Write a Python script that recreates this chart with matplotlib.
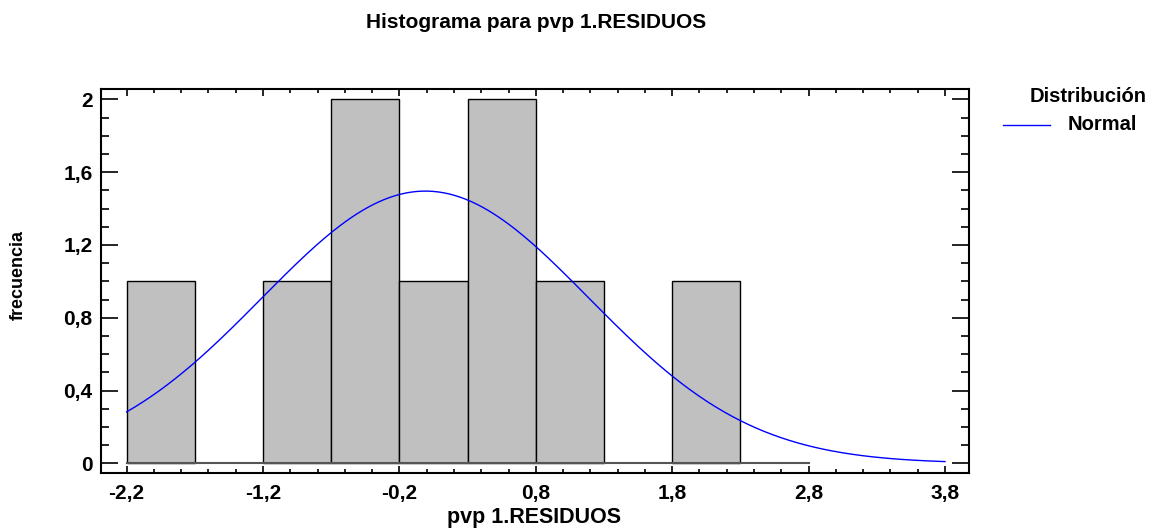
import numpy as np
import matplotlib
matplotlib.use("Agg")
import matplotlib.pyplot as plt
from matplotlib.lines import Line2D
from matplotlib.ticker import FuncFormatter

plt.rcParams['font.family'] = ['Liberation Sans', 'DejaVu Sans']
plt.rcParams['font.weight'] = 'bold'

# frecuencias por clase (ancho 0,5)
bin_edges = [-2.2, -1.7, -1.2, -0.7, -0.2, 0.3, 0.8, 1.3, 1.8, 2.3, 2.8]
counts = [1, 0, 1, 2, 1, 2, 1, 0, 1, 0]

# ajuste normal
n_obs = 9
mu = -0.01
sigma = 1.2
curve_range = (-2.2, 3.8)

fig = plt.figure(figsize=(11.6, 5.31), dpi=100)
ax = fig.add_axes([101/1160, 1 - 473/531, 868/1160, 384/531])

width = bin_edges[1] - bin_edges[0]
for left, c in zip(bin_edges[:-1], counts):
    if c > 0:
        ax.bar(left, c, width=width, align='edge', color='#C0C0C0',
               edgecolor='black', linewidth=1.0, zorder=2)
ax.plot([bin_edges[0], bin_edges[-1]], [0, 0], color='#555555', lw=1.5, zorder=3)

xs = np.linspace(curve_range[0], curve_range[1], 300)
ys = n_obs * width * np.exp(-0.5 * ((xs - mu) / sigma) ** 2) / (sigma * np.sqrt(2 * np.pi))
ax.plot(xs, ys, color='#0000FF', lw=1.0, zorder=4)

ax.set_xlim(-2.388, 3.976)
ax.set_ylim(-0.053, 2.057)

comma = FuncFormatter(lambda v, p: ('%g' % round(v, 2)).replace('.', ','))
ax.set_xticks(np.arange(-2.2, 3.81, 1.0))
ax.set_xticks(np.arange(-2.2, 3.81, 0.2), minor=True)
ax.set_yticks(np.arange(0, 2.01, 0.4))
ax.set_yticks(np.arange(0, 2.01, 0.1), minor=True)
ax.xaxis.set_major_formatter(comma)
ax.yaxis.set_major_formatter(comma)

ax.tick_params(axis='both', which='both', direction='in', top=True, right=True,
               width=1.2, labelsize=15)
ax.tick_params(axis='y', which='major', length=12, pad=6)
ax.tick_params(axis='y', which='minor', length=6)
ax.tick_params(axis='x', which='major', length=5, pad=8)
ax.tick_params(axis='x', which='minor', length=3)
for lab in ax.get_xticklabels() + ax.get_yticklabels():
    lab.set_fontweight('bold')
for s in ax.spines.values():
    s.set_linewidth(1.5)

ax.set_xlabel('pvp 1.RESIDUOS', fontsize=15.5, fontweight='bold')
ax.xaxis.set_label_coords(0.499, -0.117)
ax.xaxis.label.set_va('center')
ax.set_ylabel('frecuencia', fontsize=13, fontweight='bold')
ax.yaxis.set_label_coords(-0.0956, 0.516)
ax.yaxis.label.set_va('center')

fig.text(536/1160, 1 - 22/531, 'Histograma para pvp 1.RESIDUOS', ha='center', va='center',
         fontsize=15, fontweight='bold')

# leyenda
fig.text(1088/1160, 1 - 97/531, 'Distribución', ha='center', va='center',
         fontsize=14.5, fontweight='bold')
fig.add_artist(Line2D([1003/1160, 1050/1160], [1 - 125/531, 1 - 125/531],
                      color='#0000FF', lw=1.0))
fig.text(1068/1160, 1 - 125/531, 'Normal', ha='left', va='center',
         fontsize=14.5, fontweight='bold')

fig.savefig('out.png', dpi=100)
